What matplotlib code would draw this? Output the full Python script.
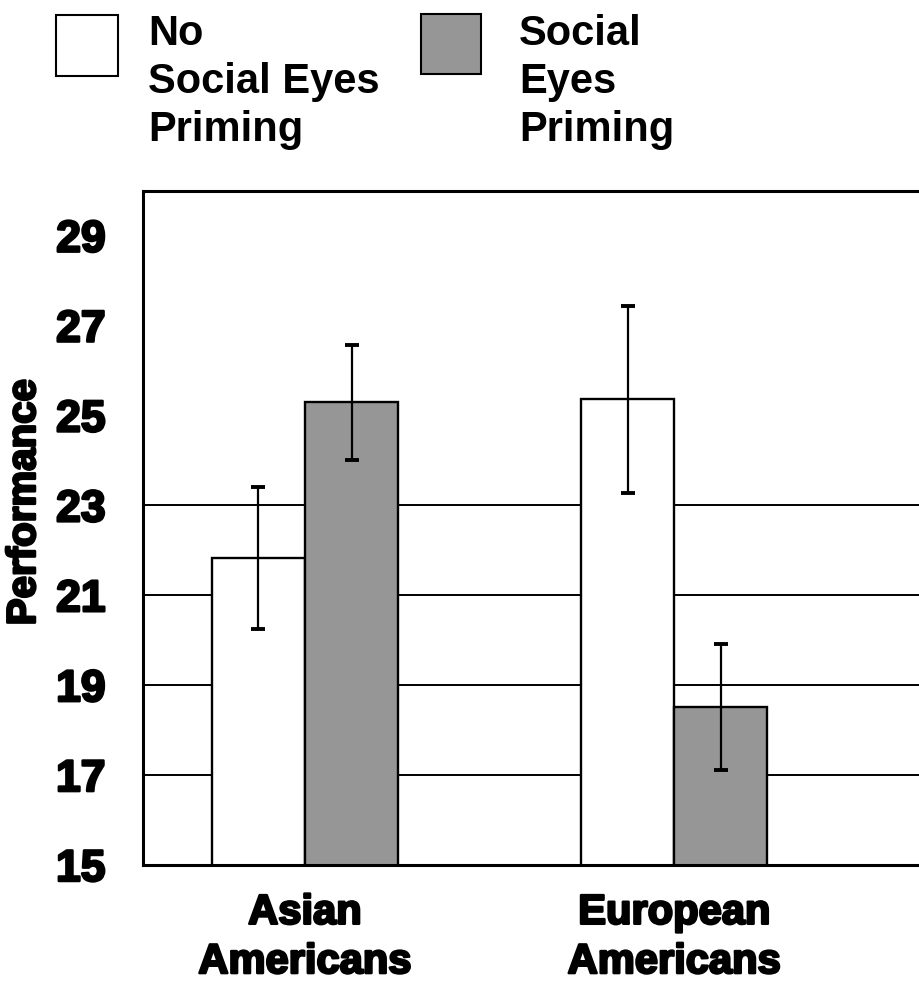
import matplotlib
matplotlib.use("Agg")
import matplotlib.pyplot as plt
import matplotlib.patheffects as pe
from matplotlib.patches import Rectangle
import numpy as np

plt.rcParams['font.family'] = ['Liberation Sans', 'DejaVu Sans']
plt.rcParams['font.weight'] = 'bold'

# group labels and condition names
groups = ['Asian\nAmericans', 'European\nAmericans']
conditions = ['No\nSocial Eyes\nPriming', 'Social\nEyes\nPriming']

# mean performance and error bar half-lengths per condition
no_priming = [21.83, 25.36]
no_priming_err = [1.57, 2.08]
priming = [25.29, 18.51]
priming_err = [1.27, 1.40]

yticks = [15, 17, 19, 21, 23, 25, 27, 29]
gridlines = [17, 19, 21, 23]

fill_colors = ['white', '#969696']
W, H = 920, 981

fig = plt.figure(figsize=(W / 100, H / 100), dpi=100)
ax = fig.add_axes([143 / W, 116 / H, 800 / W, 674.3 / H])

x = np.arange(len(groups))
width = 0.252
heavy = [pe.withStroke(linewidth=1.8, foreground='black')]

for g in gridlines:
    ax.axhline(g, color='black', lw=1.4, zorder=1)

ax.bar(x - width / 2, no_priming, width, color=fill_colors[0],
       edgecolor='black', lw=1.7, zorder=2)
ax.bar(x + width / 2, priming, width, color=fill_colors[1],
       edgecolor='black', lw=1.7, zorder=2)
ax.errorbar(x - width / 2, no_priming, yerr=no_priming_err, fmt='none',
            ecolor='black', elinewidth=1.6, capsize=5, capthick=2.8, zorder=3)
ax.errorbar(x + width / 2, priming, yerr=priming_err, fmt='none',
            ecolor='black', elinewidth=1.6, capsize=5, capthick=2.8, zorder=3)

ax.set_ylim(15, 30)
ax.set_xlim(-0.4387, 1.7276)
ax.set_yticks(yticks)
ax.set_yticklabels([str(t) for t in yticks], fontsize=32, fontweight='bold')
ax.set_xticks(x)
ax.set_xticklabels(groups, fontsize=30, fontweight='bold', linespacing=1.3)
ax.tick_params(axis='y', length=0, pad=27)
ax.tick_params(axis='x', length=0, pad=20)
for lab in ax.get_yticklabels() + ax.get_xticklabels():
    lab.set_path_effects(heavy)

ax.set_ylabel('Performance', fontsize=29, fontweight='bold')
ax.yaxis.label.set_path_effects(heavy)
ax.yaxis.set_label_coords(-0.125, 0.538)

for side in ['left', 'top', 'bottom']:
    ax.spines[side].set_linewidth(2.2)
    ax.spines[side].set_zorder(4)
ax.spines['right'].set_visible(False)

# legend drawn as boxes with stacked labels above the plot
boxes = [(56, 15, 62, 61), (421, 14, 60, 60)]
text_x = [148, 519]
for (bx, by, bw, bh), color, label, tx in zip(boxes, fill_colors, conditions, text_x):
    fig.patches.append(Rectangle((bx / W, 1 - (by + bh) / H), bw / W, bh / H,
                                 transform=fig.transFigure, facecolor=color,
                                 edgecolor='black', lw=1.5))
    fig.text(tx / W, 1 - 14 / H, label, fontsize=30, fontweight='bold',
             va='top', ha='left', linespacing=1.26)

fig.savefig('out.png', dpi=100)
